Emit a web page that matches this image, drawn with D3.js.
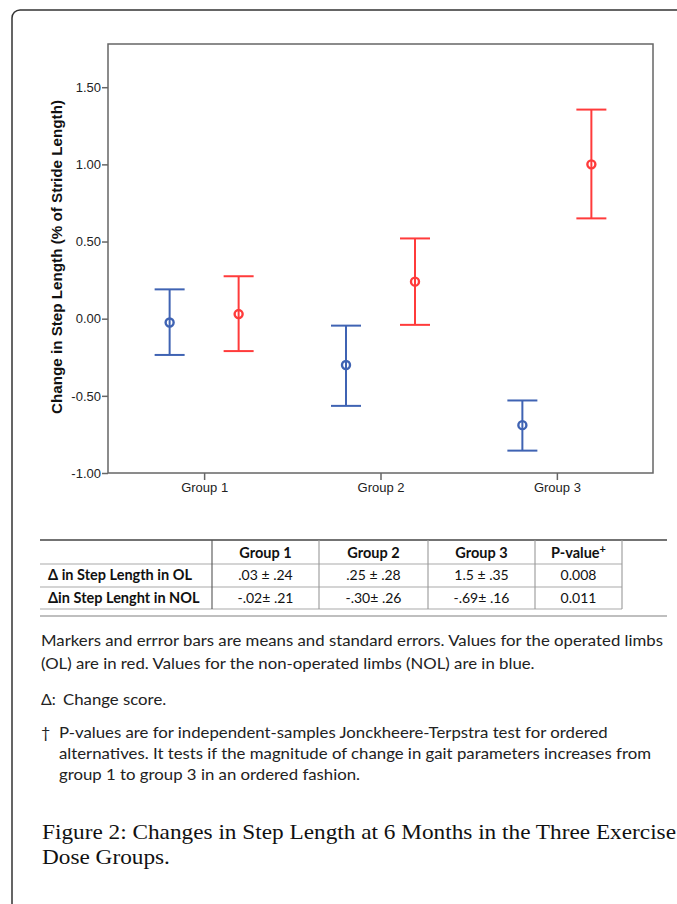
<!DOCTYPE html>
<html>
<head>
<meta charset="utf-8">
<script src="https://cdn.jsdelivr.net/npm/d3@7"></script>
<style>
  body { margin: 0; background: #fff; }
  svg { display: block; }
</style>
</head>
<body>
<div id="chart"></div>
<script>
// data
const groups = ["Group 1", "Group 2", "Group 3"]
const limbs = ["NOL", "OL"]
const olMean = [0.03, 0.24, 1.00]
const olLow = [-0.21, -0.04, 0.65]
const olHigh = [0.275, 0.52, 1.355]
const nolMean = [-0.025, -0.30, -0.69]
const nolLow = [-0.235, -0.565, -0.855]
const nolHigh = [0.19, -0.045, -0.53]
const yTicks = [-1.0, -0.5, 0.0, 0.5, 1.0, 1.5]

const tableHeader = ["", "Group 1", "Group 2", "Group 3", "P-value"]
const olRow = ["\u0394 in Step Length in OL", ".03 \u00b1 .24", ".25 \u00b1 .28", "1.5 \u00b1 .35", "0.008"]
const nolRow = ["\u0394in Step Lenght in NOL", "-.02\u00b1 .21", "-.30\u00b1 .26", "-.69\u00b1 .16", "0.011"]

const notes = [
  "Markers and errror bars are means and standard errors. Values for the operated limbs",
  "(OL) are in red. Values for the non-operated limbs (NOL) are in blue."
]
const footnote = [
  "P-values are for independent-samples Jonckheere-Terpstra test for ordered",
  "alternatives. It tests if the magnitude of change in gait parameters increases from",
  "group 1 to group 3 in an ordered fashion."
]
const caption = [
  "Figure 2: Changes in Step Length at 6 Months in the Three Exercise",
  "Dose Groups."
]

const width = 677
const height = 904
const blue = "#3f63b3"
const red = "#ff3b3b"
const axisColor = "#666"
const sansArial = "'Liberation Sans', Arial, sans-serif"
const sansCal = "Lato, 'Open Sans', sans-serif"

const svg = d3.select("#chart").append("svg")
  .attr("width", width)
  .attr("height", height)

// outer frame, runs off the right and bottom edges
svg.append("rect")
  .attr("x", 12).attr("y", 10)
  .attr("width", 720).attr("height", 960)
  .attr("rx", 8)
  .attr("fill", "none")
  .attr("stroke", "#333")
  .attr("stroke-width", 1.5)

// chart
const plot = { left: 108, right: 653, top: 44, bottom: 473 }

const y = d3.scaleLinear()
  .domain([-1, 1.78])
  .range([plot.bottom, plot.top])

const x = d3.scalePoint()
  .domain(groups)
  .range([plot.left, plot.right])
  .padding(0.545)

const dx = d3.scalePoint()
  .domain(limbs)
  .range([-34.5, 34.5])

svg.append("rect")
  .attr("x", plot.left).attr("y", plot.top)
  .attr("width", plot.right - plot.left)
  .attr("height", plot.bottom - plot.top)
  .attr("fill", "none")
  .attr("stroke", axisColor)
  .attr("stroke-width", 1.5)

const fmt = d => d3.format(".2f")(d).replace("\u2212", "-")

const yAxis = svg.append("g")
  .attr("transform", `translate(${plot.left},0)`)
  .call(d3.axisLeft(y).tickValues(yTicks).tickFormat(fmt).tickSize(6).tickPadding(1))
yAxis.select(".domain").remove()

const xAxis = svg.append("g")
  .attr("transform", `translate(0,${plot.bottom})`)
  .call(d3.axisBottom(x).tickSize(7).tickPadding(3))
xAxis.select(".domain").remove()

svg.selectAll(".tick line")
  .attr("stroke", axisColor)
  .attr("stroke-width", 1.5)
svg.selectAll(".tick text")
  .attr("fill", "#222")
  .attr("font-family", sansArial)
  .attr("font-size", 13)

svg.append("text")
  .attr("transform", `translate(62,257) rotate(-90)`)
  .attr("text-anchor", "middle")
  .attr("font-family", sansArial)
  .attr("font-weight", "bold")
  .attr("font-size", 14)
  .attr("fill", "#111")
  .attr("textLength", 314)
  .attr("lengthAdjust", "spacingAndGlyphs")
  .text("Change in Step Length (% of Stride Length)")

const series = [
  { limb: "NOL", color: blue, mean: nolMean, low: nolLow, high: nolHigh },
  { limb: "OL", color: red, mean: olMean, low: olLow, high: olHigh }
]

const capHalf = 15
series.forEach(s => {
  const pts = groups.map((g, i) => ({
    cx: x(g) + dx(s.limb), mean: s.mean[i], low: s.low[i], high: s.high[i]
  }))
  const g = svg.append("g")
    .attr("stroke", s.color)
    .attr("stroke-width", 2)
    .attr("fill", "none")

  g.selectAll(".stem").data(pts).join("line")
    .attr("x1", d => d.cx).attr("x2", d => d.cx)
    .attr("y1", d => y(d.low)).attr("y2", d => y(d.high))
  g.selectAll(".capHi").data(pts).join("line")
    .attr("x1", d => d.cx - capHalf).attr("x2", d => d.cx + capHalf)
    .attr("y1", d => y(d.high)).attr("y2", d => y(d.high))
  g.selectAll(".capLo").data(pts).join("line")
    .attr("x1", d => d.cx - capHalf).attr("x2", d => d.cx + capHalf)
    .attr("y1", d => y(d.low)).attr("y2", d => y(d.low))
  g.selectAll("circle").data(pts).join("circle")
    .attr("cx", d => d.cx).attr("cy", d => y(d.mean))
    .attr("r", 4)
    .attr("stroke-width", 2.4)
})

// table
const cols = [40, 212, 319, 428, 535, 622]
const rowsY = [540, 564, 587, 609]
const tbl = svg.append("g")

tbl.append("line")
  .attr("x1", 40).attr("x2", 667)
  .attr("y1", rowsY[0]).attr("y2", rowsY[0])
  .attr("stroke", "#444").attr("stroke-width", 1.3)
rowsY.slice(1).forEach(ry => {
  tbl.append("line")
    .attr("x1", 40).attr("x2", cols[5])
    .attr("y1", ry).attr("y2", ry)
    .attr("stroke", "#aaa").attr("stroke-width", 1.2)
})
cols.slice(1).forEach((cx, i) => {
  tbl.append("line")
    .attr("x1", cx).attr("x2", cx)
    .attr("y1", rowsY[0]).attr("y2", rowsY[3])
    .attr("stroke", i === 0 ? "#555" : "#999").attr("stroke-width", 1.1)
})
tbl.append("line")
  .attr("x1", 40).attr("x2", 667)
  .attr("y1", 616).attr("y2", 616)
  .attr("stroke", "#aaa").attr("stroke-width", 1.5)

const rows = [tableHeader, olRow, nolRow]
const baselines = [558, 580, 603]
rows.forEach((row, ri) => {
  row.forEach((cell, ci) => {
    if (!cell) return
    const t = tbl.append("text")
      .attr("y", baselines[ri])
      .attr("font-family", sansCal)
      .attr("font-size", ri === 0 || ci === 0 ? 14.5 : 14)
      .attr("fill", "#111")
      .attr("font-weight", ri === 0 || ci === 0 ? "bold" : "normal")
    if (ci === 0) {
      t.attr("x", 48).attr("text-anchor", "start")
    } else {
      t.attr("x", (cols[ci] + cols[ci + 1]) / 2).attr("text-anchor", "middle")
    }
    t.text(cell)
    if (ri === 0 && ci === 4) {
      t.append("tspan").attr("dy", -5).attr("font-size", 11).text("+")
    }
  })
})

// notes: scale every line by the same factor so the first line spans its width
function fitLines(g, lines, refIndex, refLength) {
  const nodes = lines.map(l => g.append("text")
    .attr("x", l.x).attr("y", l.y)
    .text(l.text))
  const k = refLength / nodes[refIndex].node().getComputedTextLength()
  nodes.forEach(n => n
    .attr("textLength", n.node().getComputedTextLength() * k)
    .attr("lengthAdjust", "spacingAndGlyphs"))
}

const noteG = svg.append("g")
  .attr("font-family", sansCal)
  .attr("font-size", 16)
  .attr("fill", "#222")

fitLines(noteG, [
  { x: 41, y: 646, text: notes[0] },
  { x: 41, y: 669, text: notes[1] },
  { x: 63, y: 705, text: "Change score." },
  { x: 59, y: 738, text: footnote[0] },
  { x: 59, y: 759, text: footnote[1] },
  { x: 59, y: 780, text: footnote[2] }
], 0, 622)
noteG.append("text").attr("x", 41).attr("y", 705).text("\u0394:")
noteG.append("text").attr("x", 41).attr("y", 738).text("\u2020")

// caption
const capG = svg.append("g")
  .attr("font-family", "'Liberation Serif', 'DejaVu Serif', serif")
  .attr("font-size", 21)
  .attr("fill", "#111")
fitLines(capG, caption.map((c, i) => ({ x: 42, y: 839 + i * 25, text: c })), 0, 634)
</script>
</body>
</html>
